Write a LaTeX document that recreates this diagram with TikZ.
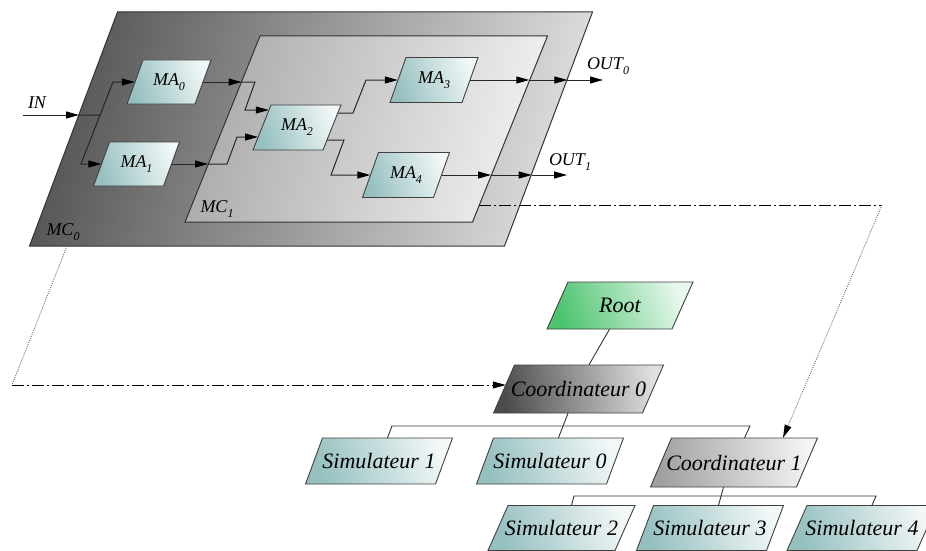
\documentclass[tikz,border=0pt]{standalone}
\usepackage{fontspec}
\setmainfont{Liberation Serif}[ItalicFont={Liberation Serif Italic}]
\usetikzlibrary{arrows.meta,patterns.meta}

\definecolor{tealdk}{HTML}{96C0C0}
\definecolor{teallt}{HTML}{F2F7F7}
\definecolor{greendk}{HTML}{4CC46E}
\definecolor{greenlt}{HTML}{E8F8EE}
\definecolor{coadk}{HTML}{4A4A4A}
\definecolor{coalt}{HTML}{E0E0E0}
\definecolor{cobdk}{HTML}{A0A0A0}
\definecolor{coblt}{HTML}{F4F4F4}
\definecolor{mcadk}{HTML}{555555}
\definecolor{mcalt}{HTML}{DCDCDC}
\definecolor{mcbdk}{HTML}{ABABAB}
\definecolor{mcblt}{HTML}{F0F0F0}

% slanted box: name, cx, cy, width, height, slant, path style, node style, text
\newcommand\pgram[9]{%
  \path[#7] (#2-#4/2+#6/2,#3-#5/2) -- (#2+#4/2+#6/2,#3-#5/2)
     -- (#2+#4/2-#6/2,#3+#5/2) -- (#2-#4/2-#6/2,#3+#5/2) -- cycle;
  \node[inner sep=0pt, minimum width=#4pt, minimum height=#5pt, #8] (#1) at (#2,#3) {#9};
}
% lowered index
\newcommand\idx[1]{\raisebox{-5pt}{\fontsize{12}{12}\selectfont #1}}

\begin{document}
\begin{tikzpicture}[x=1pt, y=-1pt,
  lbl/.style={font=\rmfamily\itshape\fontsize{18}{20}\selectfont},
  big/.style={font=\rmfamily\itshape\fontsize{22}{24}\selectfont},
  tip/.style={-{Triangle[length=13pt,width=7pt,black]}},
  wire/.style={draw=black!85, line width=1pt},
  arr/.style={wire, tip},
  dashdot/.style={draw=black, line width=1pt, dash pattern=on 12pt off 3pt on 2pt off 3pt},
  dotline/.style={draw=black!55, line width=0.9pt, dash pattern=on 1pt off 1.2pt},
  treeline/.style={draw=black!80, line width=0.9pt},
  boxline/.style={draw=black!75, line width=0.9pt},
  hatch/.style={postaction={pattern={Lines[angle=55,distance=4pt,line width=0.5pt]}, pattern color=white, fill opacity=0.12}},
  mafill/.style={boxline, left color=tealdk, right color=teallt, shading angle=110},
  rootfill/.style={boxline, left color=greendk, right color=greenlt, shading angle=110},
  co0fill/.style={boxline, left color=coadk, right color=coalt, shading angle=100, hatch},
  co1fill/.style={boxline, left color=cobdk, right color=coblt, shading angle=100},
  mc0fill/.style={draw=black!80, line width=1pt, left color=mcadk, right color=mcalt, shading angle=75, hatch},
  mc1fill/.style={draw=black!80, line width=1pt, left color=mcbdk, right color=mcblt, shading angle=75},
]
\clip (0,0) rectangle (926,551);

% ---- coupled model MC0 containing MC1 ----
\pgram{mc0}{311}{129}{475}{234}{88}{mc0fill}{}{}
\pgram{mc1}{366.25}{129}{287.5}{186}{75}{mc1fill}{}{}

\pgram{ma0}{169}{82}{68}{44}{16}{mafill}{lbl}{MA\idx{0}}
\pgram{ma1}{136.5}{164}{70}{44}{16}{mafill}{lbl}{MA\idx{1}}
\pgram{ma2}{297}{127.5}{70}{45}{18}{mafill}{lbl}{MA\idx{2}}
\pgram{ma3}{434}{80}{72}{45}{16}{mafill}{lbl}{MA\idx{3}}
\pgram{ma4}{406}{175}{71}{45}{16}{mafill}{lbl}{MA\idx{4}}

\node[lbl] (inlbl) at (37,103) {IN};
\node[lbl] (out0lbl) at (608,66) {OUT\idx{0}};
\node[lbl] (out1lbl) at (570,162) {OUT\idx{1}};
\node[lbl] (mc0lbl) at (63,232) {MC\idx{0}};
\node[lbl] (mc1lbl) at (217,209) {MC\idx{1}};

% ports and bends
\coordinate (inS) at (23,115);
\coordinate (inX) at (79,115);
\coordinate (fork) at (100,115);
\coordinate (forkU) at (113,82);
\coordinate (forkD) at (81,164);
\coordinate (x0) at (241.5,82);
\coordinate (x0a) at (255,82);
\coordinate (x0b) at (245,110);
\coordinate (x1) at (208,164);
\coordinate (x1a) at (227,164);
\coordinate (x1b) at (237,137);
\coordinate (y0a) at (353,113);
\coordinate (y0b) at (366,80);
\coordinate (y1a) at (344,140);
\coordinate (y1b) at (331,175);
\coordinate (z3a) at (529.3,80);
\coordinate (z3b) at (567.4,80);
\coordinate (out0) at (603,80);
\coordinate (z4a) at (491,175);
\coordinate (z4b) at (531.7,175);
\coordinate (out1) at (567,175);

\draw[arr] (inS) -- (inX);
\draw[arr] (inX) -- (fork) -- (forkU) -- (ma0.west);
\draw[arr] (fork) -- (forkD) -- (ma1.west);
\draw[arr] (ma0.east) -- (x0);
\draw[arr] (x0) -- (x0a) -- (x0b) -- ([shift={(7,-17.5)}]ma2.west);
\draw[arr] (ma1.east) -- (x1);
\draw[arr] (x1) -- (x1a) -- (x1b) -- ([shift={(-3.8,9.5)}]ma2.west);
\draw[arr] ([shift={(5.8,-14.5)}]ma2.east) -- (y0a) -- (y0b) -- (ma3.west);
\draw[arr] ([shift={(-5,12.5)}]ma2.east) -- (y1a) -- (y1b) -- (ma4.west);
\draw[arr] (ma3.east) -- (z3a);
\draw[arr] (z3a) -- (z3b);
\draw[arr] (z3b) -- (out0);
\draw[arr] (ma4.east) -- (z4a);
\draw[arr] (z4a) -- (z4b);
\draw[arr] (z4b) -- (out1);

% ---- simulation tree ----
\pgram{root}{620}{305.5}{125}{47}{21}{rootfill}{big}{Root}
\pgram{co0}{578.5}{389}{149}{48}{21}{co0fill}{big}{Coordinateur 0}
\pgram{sim1}{379}{461}{130}{46}{17}{mafill}{big}{Simulateur 1}
\pgram{sim0}{550}{461}{130}{46}{17}{mafill}{big}{Simulateur 0}
\pgram{co1}{734}{462.5}{146}{49}{21}{co1fill}{big}{Coordinateur 1}
\pgram{sim2}{561.5}{528}{127}{45}{20}{mafill}{big}{Simulateur 2}
\pgram{sim3}{710}{528}{130}{45}{17}{mafill}{big}{Simulateur 3}
\pgram{sim4}{862}{528}{130}{45}{20}{mafill}{big}{Simulateur 4}

\coordinate (b1l) at (392,426);
\coordinate (b1r) at (750,426);
\coordinate (b2l) at (574,496);
\coordinate (b2r) at (876,496);
\draw[treeline] ([xshift=-10.5]root.south) -- ([xshift=10.5]co0.north);
\draw[treeline] ([xshift=-10.5]co0.south) -- ([xshift=8.5]sim0.north);
\draw[treeline] ([xshift=8.5]sim1.north) -- (b1l) -- (b1r) -- ([xshift=10.5]co1.north);
\draw[treeline] ([xshift=-10.5]co1.south) -- ([xshift=8.5]sim3.north);
\draw[treeline] ([xshift=10]sim2.north) -- (b2l) -- (b2r) -- ([xshift=10]sim4.north);

% ---- correspondence links ----
\coordinate (m1x) at (479,205);
\coordinate (dd1) at (882,205);
\coordinate (m0x) at (67,246);
\coordinate (dd0) at (12,385);
\draw[dashdot] (m1x) -- (dd1);
\draw[dotline, tip] (dd1) -- ([xshift=49]co1.north);
\draw[dotline] (m0x) -- (dd0);
\draw[dashdot, tip] (dd0) -- ([shift={(2,-4)}]co0.west);
\end{tikzpicture}
\end{document}
